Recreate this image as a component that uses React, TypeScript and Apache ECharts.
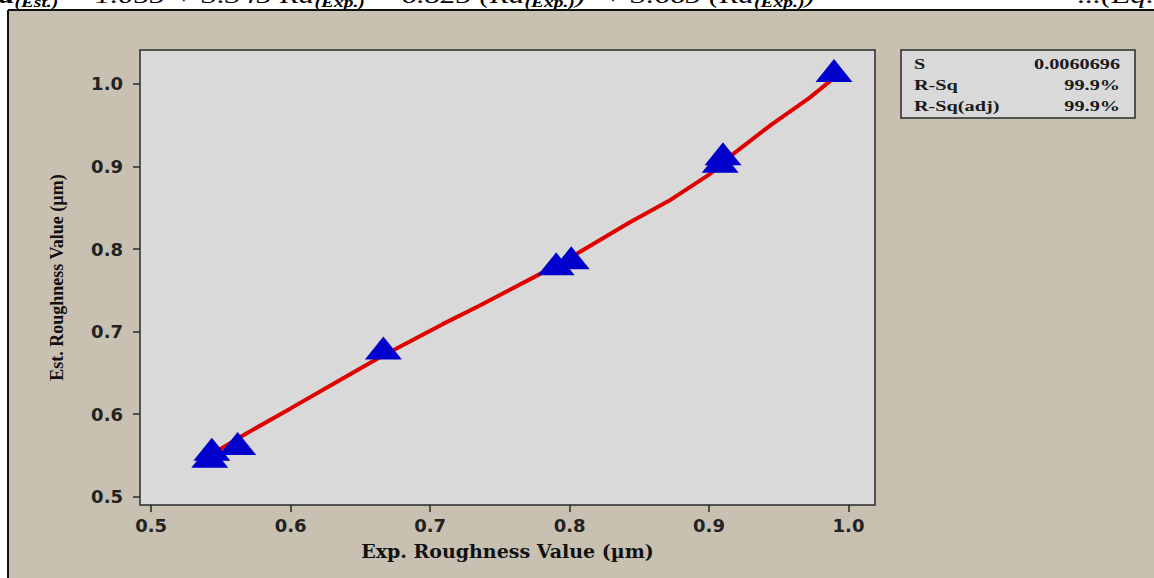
import React, { useEffect, useRef } from "react";
import * as echarts from "echarts";

const expValues = [0.542, 0.5435, 0.562, 0.6665, 0.7904, 0.8012, 0.908, 0.910, 0.9896];
const estValues = [0.549, 0.5574, 0.5646, 0.680, 0.782, 0.7893, 0.9064, 0.9155, 1.0163];

// Fitted curve
const fitExp = [0.545, 0.5655, 0.600, 0.628, 0.664, 0.709, 0.735, 0.778, 0.807, 0.843, 0.871, 0.900, 0.9165, 0.945, 0.972, 0.988];
const fitEst = [0.553, 0.574, 0.607, 0.634, 0.669, 0.709, 0.731, 0.769, 0.796, 0.832, 0.858, 0.890, 0.914, 0.951, 0.983, 1.005];

const xTicks = [0.5, 0.6, 0.7, 0.8, 0.9, 1.0];
const yTicks = [0.5, 0.6, 0.7, 0.8, 0.9, 1.0];

const statLabels = ["S", "R-Sq", "R-Sq(adj)"];
const statValues = ["0.0060696", "99.9%", "99.9%"];

const xTitle = "Exp. Roughness Value (µm)";
const yTitle = "Est. Roughness Value (µm)";

export default function App() {
  const ref = useRef<HTMLDivElement>(null);

  useEffect(() => {
    if (!ref.current) return;
    const chart = echarts.init(ref.current, undefined, { renderer: "svg" });

    const scatterData = expValues.map((x, i) => [x, estValues[i]]);
    const lineData = fitExp.map((x, i) => [x, fitEst[i]]);

    const statTexts: any[] = [];
    statLabels.forEach((l, i) => {
      const y = 64 + i * 21;
      statTexts.push({
        type: "text",
        x: 914,
        y,
        scaleX: 1.35,
        z: 20,
        style: {
          text: l,
          fill: "#1a1a1a",
          font: "bold 15px 'Liberation Serif', serif",
          textAlign: "left",
          textVerticalAlign: "middle",
        },
      });
      statTexts.push({
        type: "text",
        x: 1120,
        y,
        scaleX: 1.35,
        z: 20,
        style: {
          text: statValues[i],
          fill: "#1a1a1a",
          font: "bold 15px 'Liberation Serif', serif",
          textAlign: "right",
          textVerticalAlign: "middle",
        },
      });
    });

    const option: any = {
      animation: false,
      backgroundColor: "#C8C0B1",
      graphic: [
        { type: "rect", z: 1, shape: { x: 0, y: 0, width: 1154, height: 10 }, style: { fill: "#ffffff" } },
        { type: "rect", z: 1, shape: { x: 0, y: 0, width: 8, height: 578 }, style: { fill: "#ffffff" } },
        {
          type: "text",
          x: -22,
          y: 7,
          scaleX: 1.3,
          z: 2,
          style: {
            text: "{b|Ra}{s|(Est.)}{n| = 1.055 + 3.345 Ra}{s|(Exp.)}{n| − 6.825 (Ra}{s|(Exp.)}{n|)}{u|2}{n| + 3.665 (Ra}{s|(Exp.)}{n|)}{u|3}",
            textVerticalAlign: "bottom",
            fill: "#000",
            rich: {
              b: { font: "italic bold 24px 'Liberation Serif', serif", fill: "#000" },
              n: { font: "italic 24px 'Liberation Serif', serif", fill: "#000" },
              s: { font: "italic bold 15px 'Liberation Serif', serif", fill: "#000", verticalAlign: "bottom", padding: [0, 0, -3, 0] },
              u: { font: "italic 14px 'Liberation Serif', serif", fill: "#000" },
            },
          },
        },
        {
          type: "text",
          x: 1154,
          y: 7,
          scaleX: 1.3,
          z: 2,
          style: {
            text: "...(Eq.",
            textAlign: "right",
            textVerticalAlign: "bottom",
            font: "italic 24px 'Liberation Serif', serif",
            fill: "#000",
          },
        },
        { type: "line", z: 3, shape: { x1: 8, y1: 10, x2: 1154, y2: 10 }, style: { stroke: "#111", lineWidth: 2 } },
        { type: "line", z: 3, shape: { x1: 8, y1: 10, x2: 8, y2: 578 }, style: { stroke: "#111", lineWidth: 2 } },
        {
          type: "rect",
          z: 10,
          shape: { x: 901, y: 50, width: 234, height: 68 },
          style: { fill: "#D9D9D9", stroke: "#2a2a2a", lineWidth: 1.5 },
        },
        ...statTexts,
      ],
      grid: {
        left: 140,
        top: 50,
        width: 735,
        height: 455,
        show: true,
        backgroundColor: "#D9D9D9",
        borderColor: "#2a2a2a",
        borderWidth: 1.5,
      },
      xAxis: {
        type: "value",
        min: 0.492,
        max: 1.019,
        name: xTitle,
        nameLocation: "middle",
        nameGap: 36,
        nameTextStyle: {
          fontFamily: "'DejaVu Serif', serif",
          fontWeight: "bold",
          fontSize: 19,
          color: "#111",
        },
        axisLine: { show: false },
        splitLine: { show: false },
        axisTick: {
          show: true,
          length: 7,
          customValues: xTicks,
          lineStyle: { color: "#2a2a2a", width: 1.5 },
        },
        axisLabel: {
          customValues: xTicks,
          margin: 11,
          formatter: (v: number) => v.toFixed(1),
          fontFamily: "'DejaVu Sans', sans-serif",
          fontWeight: "bold",
          fontSize: 18,
          color: "#222",
        },
      },
      yAxis: {
        type: "value",
        min: 0.49,
        max: 1.041,
        name: yTitle,
        nameLocation: "middle",
        nameRotate: 90,
        nameGap: 74,
        nameTextStyle: {
          fontFamily: "'Liberation Serif', serif",
          fontWeight: "bold",
          fontSize: 18,
          color: "#111",
        },
        axisLine: { show: false },
        splitLine: { show: false },
        axisTick: {
          show: true,
          length: 7,
          customValues: yTicks,
          lineStyle: { color: "#2a2a2a", width: 1.5 },
        },
        axisLabel: {
          customValues: yTicks,
          margin: 17,
          formatter: (v: number) => v.toFixed(1),
          fontFamily: "'DejaVu Sans', sans-serif",
          fontWeight: "bold",
          fontSize: 18,
          color: "#222",
        },
      },
      series: [
        {
          type: "line",
          data: lineData,
          showSymbol: false,
          smooth: false,
          lineStyle: { color: "#E00000", width: 4 },
          z: 2,
        },
        {
          type: "scatter",
          data: scatterData,
          symbol: "triangle",
          symbolSize: [37, 23],
          itemStyle: { color: "#0000CC", opacity: 1 },
          z: 3,
        },
      ],
    };

    chart.setOption(option);
    return () => chart.dispose();
  }, []);

  return (
    <div
      ref={ref}
      style={{ position: "absolute", left: 0, top: 0, width: 1154, height: 578 }}
    />
  );
}
